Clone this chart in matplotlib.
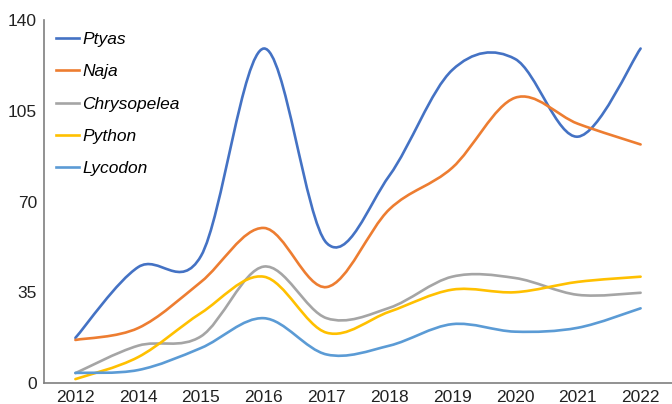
import numpy as np
import matplotlib.pyplot as plt
from matplotlib.path import Path
from matplotlib.patches import PathPatch
from matplotlib.lines import Line2D

years = ['2012', '2014', '2015', '2016', '2017', '2018', '2019', '2020', '2021', '2022']
ptyas = [17.4, 44.7, 49, 129, 54, 80, 120.7, 125, 95, 129]
naja = [16.6, 21.2, 39, 59.8, 37, 67, 83, 110, 100, 92]
chrysopelea = [3.8, 14.4, 18, 44.9, 25, 29, 41, 40.5, 34, 34.8]
python = [1.5, 10, 27, 41, 19.4, 27.5, 36, 35, 39, 41]
lycodon = [3.9, 5, 13.5, 25, 11, 14.4, 22.7, 19.8, 21.3, 28.8]

names = ['Ptyas', 'Naja', 'Chrysopelea', 'Python', 'Lycodon']
colors = ['#4472C4', '#ED7D31', '#A5A5A5', '#FFC000', '#5B9BD5']
series = [ptyas, naja, chrysopelea, python, lycodon]

plt.rcParams['font.family'] = ['Liberation Sans', 'DejaVu Sans']


def smooth_path(x, y):
    # Excel-style smoothed line: cubic Bezier through each point
    pts = np.column_stack([x, y]).astype(float)
    ext = np.vstack([pts[0], pts, pts[-1]])
    verts = [pts[0]]
    codes = [Path.MOVETO]
    for i in range(len(pts) - 1):
        p0, p1, p2, p3 = ext[i], ext[i + 1], ext[i + 2], ext[i + 3]
        c1 = p1 + (p2 - p0) / 6
        c2 = p2 - (p3 - p1) / 6
        verts += [c1, c2, p2]
        codes += [Path.CURVE4] * 3
    return Path(verts, codes)


fig = plt.figure(figsize=(6.72, 4.04), dpi=100)
ax = fig.add_axes([44 / 672, 21 / 404, 1 - 44 / 672, 363 / 404])

x = np.arange(len(years))
handles = []
for name, vals, c in zip(names, series, colors):
    ax.add_patch(PathPatch(smooth_path(x, vals), fill=False, edgecolor=c,
                           linewidth=1.9, capstyle='round'))
    handles.append(Line2D([], [], color=c, linewidth=1.9, label=name))

ax.set_xlim(-0.5, len(years) - 0.5)
ax.set_ylim(0, 140)
ax.set_xticks(x)
ax.set_xticklabels(years)
ax.set_yticks([0, 35, 70, 105, 140])
ax.tick_params(length=0, labelsize=12.5, colors='#222222', pad=5)
for s in ['top', 'right']:
    ax.spines[s].set_visible(False)
for s in ['left', 'bottom']:
    ax.spines[s].set_color('#7f7f7f')
    ax.spines[s].set_linewidth(1.2)

leg = ax.legend(handles=handles, loc='upper left', bbox_to_anchor=(0.0, 1.0),
                frameon=False, prop={'style': 'italic', 'size': 12.5},
                handlelength=1.3, handletextpad=0.2, labelspacing=0.98,
                borderaxespad=0.3)

fig.savefig('out.png', dpi=100)
